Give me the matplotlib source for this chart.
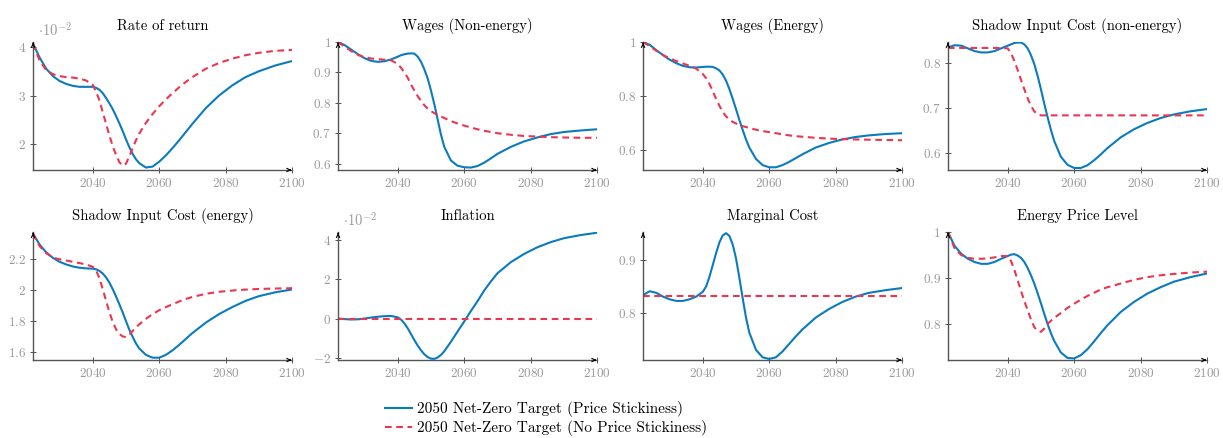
import numpy as np
import matplotlib
matplotlib.use("Agg")
import matplotlib.pyplot as plt
from matplotlib.ticker import FuncFormatter

# serif look with Computer Modern for titles, ticks and legend
plt.rcParams["font.family"] = "serif"
plt.rcParams["font.serif"] = ["cmr10", "DejaVu Serif"]
plt.rcParams["mathtext.fontset"] = "cm"
plt.rcParams["axes.formatter.use_mathtext"] = True

# simulation years (finer steps around the 2050 transition)
years = [2022, 2024, 2026, 2028, 2030, 2032, 2034, 2036, 2038,
         2040, 2041, 2042, 2043, 2044, 2045, 2046, 2047, 2048, 2049,
         2050, 2051, 2052, 2053, 2054,
         2056, 2058, 2060, 2062, 2064, 2066, 2068, 2070,
         2074, 2078, 2082, 2086, 2090, 2095, 2100]

# rate of return (levels, shown in units of 1e-2)
rate_sticky = [0.0407, 0.0378, 0.0355, 0.0340, 0.0330, 0.0324, 0.0320, 0.0318, 0.0318,
               0.0318, 0.0316, 0.0312, 0.0305, 0.0295, 0.0284, 0.0272, 0.0258, 0.0243, 0.0227,
               0.0210, 0.0194, 0.0180, 0.0169, 0.0161,
               0.0152, 0.0154, 0.0164, 0.0177, 0.0192, 0.0208, 0.0225, 0.0242,
               0.0274, 0.0300, 0.0321, 0.0338, 0.0350, 0.0362, 0.0371]
rate_flex = [0.0407, 0.0372, 0.0352, 0.0344, 0.0340, 0.0338, 0.0337, 0.0335, 0.0331,
             0.0322, 0.0308, 0.0290, 0.0266, 0.0242, 0.0218, 0.0196, 0.0178, 0.0163, 0.0156,
             0.0160, 0.0175, 0.0192, 0.0208, 0.0222,
             0.0244, 0.0262, 0.0278, 0.0292, 0.0305, 0.0317, 0.0328, 0.0338,
             0.0355, 0.0367, 0.0376, 0.0383, 0.0388, 0.0392, 0.0394]

wages_ne_sticky = [1.0, 0.99, 0.975, 0.96, 0.947, 0.938, 0.935, 0.937, 0.943,
                   0.952, 0.957, 0.960, 0.962, 0.963, 0.962, 0.952, 0.935, 0.910, 0.880,
                   0.840, 0.795, 0.745, 0.695, 0.655,
                   0.610, 0.593, 0.588, 0.587, 0.592, 0.603, 0.617, 0.632,
                   0.655, 0.673, 0.686, 0.697, 0.704, 0.709, 0.713]
wages_ne_flex = [1.0, 0.985, 0.97, 0.958, 0.95, 0.946, 0.944, 0.942, 0.940,
                 0.928, 0.915, 0.900, 0.882, 0.860, 0.840, 0.822, 0.806, 0.792, 0.781,
                 0.773, 0.766, 0.760, 0.755, 0.750,
                 0.740, 0.732, 0.725, 0.719, 0.713, 0.708, 0.704, 0.700,
                 0.695, 0.691, 0.689, 0.687, 0.686, 0.685, 0.685]

wages_e_sticky = [1.0, 0.99, 0.97, 0.952, 0.935, 0.922, 0.912, 0.907, 0.906,
                  0.908, 0.909, 0.909, 0.908, 0.903, 0.895, 0.880, 0.857, 0.826, 0.790,
                  0.752, 0.712, 0.675, 0.640, 0.610,
                  0.568, 0.545, 0.537, 0.537, 0.545, 0.557, 0.571, 0.585,
                  0.610, 0.627, 0.640, 0.649, 0.655, 0.660, 0.663]
wages_e_flex = [1.0, 0.985, 0.968, 0.952, 0.940, 0.930, 0.921, 0.912, 0.902,
                0.882, 0.866, 0.845, 0.818, 0.790, 0.764, 0.742, 0.725, 0.713, 0.705,
                0.699, 0.694, 0.689, 0.686, 0.682,
                0.676, 0.671, 0.667, 0.663, 0.659, 0.655, 0.652, 0.650,
                0.646, 0.643, 0.641, 0.640, 0.639, 0.638, 0.637]

sic_ne_sticky = [0.835, 0.840, 0.839, 0.833, 0.827, 0.824, 0.824, 0.827, 0.833,
                 0.839, 0.842, 0.845, 0.846, 0.846, 0.842, 0.833, 0.818, 0.798, 0.772,
                 0.742, 0.710, 0.680, 0.652, 0.627,
                 0.592, 0.574, 0.567, 0.567, 0.573, 0.584, 0.597, 0.611,
                 0.635, 0.653, 0.667, 0.678, 0.686, 0.693, 0.698]
sic_ne_flex = [0.834, 0.834, 0.834, 0.834, 0.834, 0.834, 0.834, 0.834, 0.834,
               0.833, 0.822, 0.805, 0.785, 0.763, 0.742, 0.722, 0.705, 0.693, 0.686,
               0.684, 0.684, 0.684, 0.684, 0.684,
               0.684, 0.684, 0.684, 0.684, 0.684, 0.684, 0.684, 0.684,
               0.684, 0.684, 0.684, 0.684, 0.684, 0.684, 0.684]

sic_e_sticky = [2.36, 2.29, 2.24, 2.205, 2.18, 2.163, 2.15, 2.142, 2.138,
                2.136, 2.132, 2.122, 2.105, 2.08, 2.047, 2.005, 1.958, 1.908, 1.856,
                1.80, 1.745, 1.70, 1.657, 1.625,
                1.584, 1.566, 1.566, 1.584, 1.613, 1.648, 1.686, 1.724,
                1.79, 1.845, 1.89, 1.93, 1.96, 1.985, 2.003]
sic_e_flex = [2.36, 2.28, 2.235, 2.207, 2.196, 2.188, 2.18, 2.172, 2.163,
              2.148, 2.125, 2.075, 2.005, 1.93, 1.858, 1.795, 1.748, 1.718, 1.702,
              1.698, 1.712, 1.738, 1.76, 1.78,
              1.815, 1.845, 1.87, 1.89, 1.908, 1.926, 1.942, 1.955,
              1.975, 1.988, 1.996, 2.002, 2.006, 2.009, 2.011]

# inflation (shown in units of 1e-2)
infl_sticky = [0.0, -0.0003, -0.0005, -0.0004, 0.0, 0.0005, 0.0009, 0.0012, 0.0013,
               0.0006, -0.0006, -0.0025, -0.0050, -0.0080, -0.0110, -0.0138, -0.0162, -0.0182, -0.0196,
               -0.0204, -0.0205, -0.0198, -0.0185, -0.0166,
               -0.0118, -0.0066, -0.0015, 0.0038, 0.0088, 0.0142, 0.0188, 0.0230,
               0.0286, 0.0328, 0.0362, 0.0388, 0.0408, 0.0424, 0.0436]
infl_flex = [0.0] * len(years)

mc_sticky = [0.834, 0.841, 0.838, 0.831, 0.826, 0.823, 0.823, 0.826, 0.831,
             0.840, 0.850, 0.868, 0.890, 0.912, 0.932, 0.945, 0.949, 0.944, 0.928,
             0.902, 0.866, 0.828, 0.792, 0.764,
             0.732, 0.718, 0.715, 0.718, 0.729, 0.743, 0.757, 0.770,
             0.792, 0.808, 0.821, 0.831, 0.838, 0.843, 0.847]
mc_flex = [0.833] * len(years)

epl_sticky = [1.0, 0.97, 0.953, 0.942, 0.935, 0.931, 0.931, 0.935, 0.942,
              0.948, 0.951, 0.952, 0.949, 0.944, 0.935, 0.922, 0.906, 0.888, 0.867,
              0.845, 0.822, 0.800, 0.780, 0.763,
              0.738, 0.726, 0.725, 0.732, 0.745, 0.762, 0.780, 0.797,
              0.826, 0.848, 0.866, 0.880, 0.892, 0.902, 0.910]
epl_flex = [1.0, 0.965, 0.95, 0.944, 0.942, 0.942, 0.943, 0.945, 0.948,
            0.948, 0.937, 0.918, 0.895, 0.872, 0.850, 0.830, 0.810, 0.793, 0.785,
            0.783, 0.790, 0.800, 0.807, 0.813,
            0.824, 0.835, 0.844, 0.853, 0.861, 0.868, 0.875, 0.880,
            0.888, 0.896, 0.902, 0.906, 0.909, 0.912, 0.914]

titles = ["Rate of return", "Wages (Non-energy)", "Wages (Energy)",
          "Shadow Input Cost (non-energy)", "Shadow Input Cost (energy)",
          "Inflation", "Marginal Cost", "Energy Price Level"]
sticky = [rate_sticky, wages_ne_sticky, wages_e_sticky, sic_ne_sticky,
          sic_e_sticky, infl_sticky, mc_sticky, epl_sticky]
flex = [rate_flex, wages_ne_flex, wages_e_flex, sic_ne_flex,
        sic_e_flex, infl_flex, mc_flex, epl_flex]
scales = [100, 1, 1, 1, 1, 100, 1, 1]
yticks = [[2, 3, 4], [0.6, 0.7, 0.8, 0.9, 1], [0.6, 0.8, 1], [0.6, 0.7, 0.8],
          [1.6, 1.8, 2, 2.2], [-2, 0, 2, 4], [0.8, 0.9], [0.8, 0.9, 1]]
ylims = [(1.47, 4.10), (0.579, 1.0), (0.527, 1.0), (0.5625, 0.847),
         (1.551, 2.37), (-2.11, 4.39), (0.713, 0.951), (0.7215, 1.0)]

blue = "#0A7BBF"
red = "#EC3550"
axis_col = "#555555"
label_col = "#9a9a9a"

fig = plt.figure(figsize=(12.23, 4.38), dpi=100)
lefts = [0.027, 0.2764, 0.5258, 0.7751]
bottoms = [0.6119, 0.178]
w, h = 0.2118, 0.292

for i in range(8):
    ax = fig.add_axes([lefts[i % 4], bottoms[i // 4], w, h])
    s = scales[i]
    l1, = ax.plot(years, np.array(sticky[i]) * s, color=blue, lw=1.5)
    l2, = ax.plot(years, np.array(flex[i]) * s, color=red, lw=1.5,
                  ls=(0, (3.2, 2.2)))
    ax.set_xlim(2022, 2100)
    ax.set_ylim(*ylims[i])
    ax.set_xticks([2040, 2060, 2080, 2100])
    ax.set_yticks(yticks[i])
    ax.yaxis.set_major_formatter(FuncFormatter(lambda v, p: f"${v:g}$"))
    ax.xaxis.set_major_formatter(FuncFormatter(lambda v, p: f"${v:g}$"))
    ax.set_title(titles[i], fontsize=10.5, pad=9)
    for side in ["top", "right"]:
        ax.spines[side].set_visible(False)
    for side in ["left", "bottom"]:
        ax.spines[side].set_color(axis_col)
        ax.spines[side].set_linewidth(1.0)
    ax.tick_params(direction="inout", length=4, width=0.7, color=axis_col,
                   labelcolor=label_col, labelsize=9.5, pad=3)
    # arrow heads at the axis ends
    ax.annotate("", xy=(1.008, 0), xytext=(0.98, 0), xycoords="axes fraction",
                arrowprops=dict(arrowstyle="->", lw=0.8, color="black",
                                mutation_scale=6))
    ax.annotate("", xy=(0, 1.015), xytext=(0, 0.97), xycoords="axes fraction",
                arrowprops=dict(arrowstyle="->", lw=0.8, color="black",
                                mutation_scale=6))
    if s == 100:
        ax.text(0.02, 1.03, r"$\cdot 10^{-2}$", transform=ax.transAxes,
                color=label_col, fontsize=10.5, va="bottom", ha="left")

fig.legend([l1, l2], ["2050 Net-Zero Target (Price Stickiness)",
                      "2050 Net-Zero Target (No Price Stickiness)"],
           loc="lower left", bbox_to_anchor=(0.306, -0.02), frameon=False,
           fontsize=11, handlelength=1.8, handletextpad=0.3,
           labelspacing=0.2, borderaxespad=0.3)

fig.savefig("out.png", dpi=100)
